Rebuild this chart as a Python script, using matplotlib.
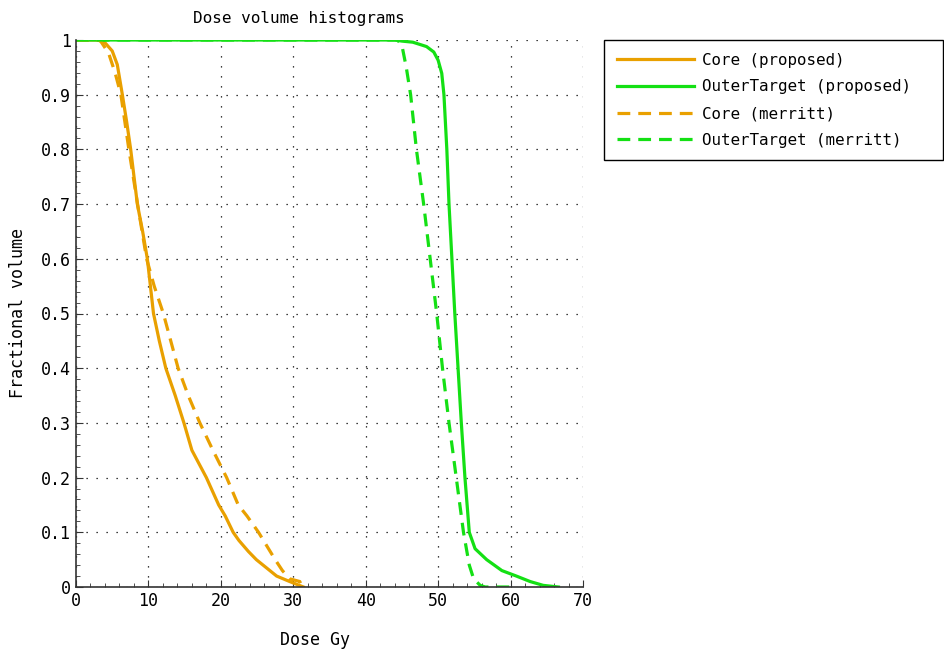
import numpy as np
import matplotlib.pyplot as plt
from matplotlib.ticker import MultipleLocator

plt.rcParams['font.family'] = ['DejaVu Sans Mono']
plt.rcParams['font.size'] = 11

ORANGE = "#E9A000"
GREEN = "#14E014"

# cumulative DVH curves: dose (Gy) vs fractional volume
core_prop_dose = [0, 3.0, 4.0, 5.0, 5.7, 6.4, 7.0, 7.55, 8.47, 9.2, 9.85, 10.7,
                  11.5, 12.4, 13.7, 14.9, 16.0, 17.0, 18.0, 19.7, 20.6, 21.7,
                  22.5, 23.8, 24.9, 26.3, 27.7, 29.5, 31.4]
core_prop_vol = [1, 1, 0.995, 0.98, 0.955, 0.9, 0.85, 0.8, 0.7, 0.65, 0.6, 0.5,
                 0.45, 0.4, 0.35, 0.3, 0.25, 0.225, 0.2, 0.15, 0.13, 0.1,
                 0.085, 0.065, 0.05, 0.035, 0.02, 0.01, 0]

outer_prop_dose = [0, 44.0, 45.0, 46.5, 48.4, 49.4, 50.0, 50.5, 50.8, 51.2,
                   51.5, 52.3, 53.2, 53.7, 54.3, 55.1, 56.7, 58.8, 60.8,
                   62.7, 64.5, 66.6]
outer_prop_vol = [1, 1, 0.998, 0.996, 0.988, 0.978, 0.963, 0.939, 0.9, 0.8,
                  0.7, 0.5, 0.3, 0.2, 0.1, 0.07, 0.05, 0.03, 0.02,
                  0.01, 0.003, 0]

core_mer_dose = [0, 3.3, 4.5, 5.4, 6.2, 7.3, 8.5, 9.75, 10.8, 12.06, 14.1,
                 15.5, 17.1, 18.9, 20.8, 22.4, 23.6, 25.2, 27.5, 28.5, 29.5,
                 30.9, 31.2]
core_mer_vol = [1, 1, 0.976, 0.94, 0.9, 0.8, 0.7, 0.6, 0.55, 0.5, 0.4,
                0.35, 0.3, 0.25, 0.2, 0.15, 0.13, 0.1, 0.05, 0.03, 0.015,
                0.01, 0]

outer_mer_dose = [0, 44.4, 45.0, 45.6, 46.2, 47.0, 48.0, 49.8, 50.6,
                  51.5, 52.5, 53.5, 54.3, 54.9, 55.8, 56.5, 60.0]
outer_mer_vol = [1, 1, 0.99, 0.95, 0.9, 0.8, 0.7, 0.5, 0.4,
                 0.3, 0.2, 0.1, 0.04, 0.015, 0.003, 0, 0]

fig = plt.figure(figsize=(9.44, 6.53), dpi=100)
ax = fig.add_axes([76 / 944, 66 / 653, 507 / 944, 547 / 653])

dashed = (0, (4, 2.5))
ax.plot(core_prop_dose, core_prop_vol, color=ORANGE, lw=2.3, label="Core (proposed)")
ax.plot(outer_prop_dose, outer_prop_vol, color=GREEN, lw=2.3, label="OuterTarget (proposed)")
ax.plot(core_mer_dose, core_mer_vol, color=ORANGE, lw=2.3, ls=dashed,
        label="Core (merritt)")
ax.plot(outer_mer_dose, outer_mer_vol, color=GREEN, lw=2.3, ls=dashed,
        label="OuterTarget (merritt)")

ax.set_xlim(0, 70)
ax.set_ylim(0, 1)
ax.xaxis.set_major_locator(MultipleLocator(10))
ax.xaxis.set_minor_locator(MultipleLocator(2))
ax.yaxis.set_minor_locator(MultipleLocator(0.02))
ax.set_yticks(np.arange(0, 1.01, 0.1))
ax.set_yticklabels(["0", "0.1", "0.2", "0.3", "0.4", "0.5", "0.6", "0.7", "0.8", "0.9", "1"])
ax.tick_params(which="both", direction="in", colors="#333333", labelcolor="black",
               labelsize=12)
ax.tick_params(which="major", length=5)
ax.tick_params(which="minor", length=3)

for side in ("top", "right"):
    ax.spines[side].set_visible(False)
for side in ("left", "bottom"):
    ax.spines[side].set_linewidth(1.2)
    ax.spines[side].set_color("#333333")

ax.grid(True, which="major", color="black", ls=(0, (1, 7)), lw=0.9)
ax.set_axisbelow(True)

ax.text(0.44, 1.025, "Dose volume histograms", transform=ax.transAxes,
        ha="center", va="bottom", fontsize=11.5)
ax.set_xlabel("Dose Gy", fontsize=12)
ax.xaxis.set_label_coords(0.471, -0.08)
ax.set_ylabel("Fractional volume", fontsize=12, labelpad=10)

# legend box sits right of the axes, stretched to a fixed width
leg = ax.legend(loc="upper left",
                bbox_to_anchor=(604 / 944, 1 - 156 / 653, 339 / 944, 116 / 653),
                bbox_transform=fig.transFigure, mode="expand", borderaxespad=0,
                fontsize=11.4, handlelength=4.9, handletextpad=0.5,
                labelspacing=0.74, borderpad=0.8, fancybox=False, framealpha=1)
leg.get_frame().set_edgecolor("black")
leg.get_frame().set_linewidth(1.0)

fig.savefig("out.png", dpi=100)
plt.close(fig)
